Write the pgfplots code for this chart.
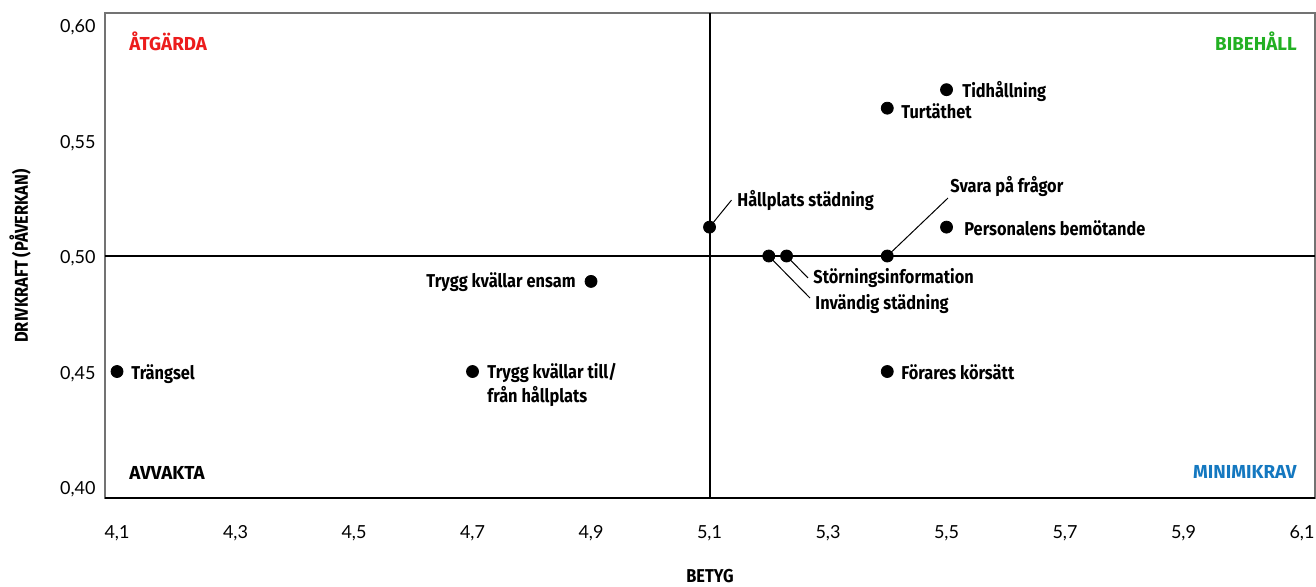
\documentclass[border=0pt]{standalone}
\usepackage{fontspec}
\setmainfont{Lato}
\newfontfamily\lab[FakeStretch=0.88]{Fira Sans}
\newfontfamily\labw{Fira Sans}
\usepackage{pgfplots}
\pgfplotsset{compat=1.18}
\definecolor{cred}{HTML}{EC1C1C}
\definecolor{cgreen}{HTML}{22B022}
\definecolor{cblue}{HTML}{1478C0}
\pgfplotstableread{
x y
4.10 0.450
4.70 0.450
4.90 0.489
5.10 0.5125
5.20 0.500
5.23 0.500
5.40 0.500
5.50 0.5125
5.50 0.572
5.40 0.564
5.40 0.450
}\pts
\begin{document}
\begin{tikzpicture}
\useasboundingbox (-52.5pt,-44pt) rectangle (605.5pt,249pt);
\begin{axis}[
  at={(0,0)}, anchor=south west,
  scale only axis, width=605pt, height=242.5pt,
  xmin=4.0797, xmax=6.1219, ymin=0.39524, ymax=0.60519,
  xtick={4.1,4.3,...,6.15}, ytick={0.40,0.45,...,0.61},
  major tick length=0pt,
  axis line style={black!55, line width=0.7pt},
  /pgf/number format/assume math mode=true,
  xticklabel style={font=\fontsize{9}{10}\selectfont, anchor=center, yshift=-17.5pt,
    /pgf/number format/.cd, fixed, fixed zerofill, precision=1, use comma},
  yticklabel style={font=\fontsize{9}{10}\selectfont, anchor=east, inner sep=0pt, xshift=-4.5pt, yshift=-1.2pt,
    /pgf/number format/.cd, fixed, fixed zerofill, precision=2, use comma},
  clip=false,
]
\draw[black, line width=1pt] (axis cs:5.1,0.39524) -- (axis cs:5.1,0.60519);
\draw[black, line width=0.9pt] (axis cs:4.0797,0.5) -- (axis cs:6.1219,0.5);
\draw[black, line width=0.9pt] (axis cs:4.0797,0.39524) -- (axis cs:6.1219,0.39524);
% leader lines
\draw[black, line width=0.5pt] (axis cs:5.1,0.5125) -- (axis cs:5.1371,0.5242);
\draw[black, line width=0.5pt] (axis cs:5.40,0.500) -- (axis cs:5.5025,0.5251);
\draw[black, line width=0.5pt] (axis cs:5.23,0.500) -- (axis cs:5.2662,0.4905);
\draw[black, line width=0.5pt] (axis cs:5.20,0.500) -- (axis cs:5.2696,0.4818);
\addplot[only marks, mark=*, mark size=3pt, black] table[x=x,y=y] {\pts};
% quadrant labels
\begin{scope}[every node/.style={font=\labw\bfseries\fontsize{9.4}{10}\selectfont, inner sep=0pt}]
\node[anchor=west, text=cred] at (axis cs:4.1203,0.5931) {ÅTGÄRDA};
\node[anchor=east, text=cgreen] at (axis cs:6.0916,0.5931) {BIBEHÅLL};
\node[anchor=west, text=black] at (axis cs:4.1203,0.4061) {AVVAKTA};
\node[anchor=east, text=cblue] at (axis cs:6.0916,0.4065) {MINIMIKRAV};
\end{scope}
\begin{scope}[every node/.style={font=\lab\bfseries\fontsize{9.3}{12}\selectfont, inner sep=0pt}]
\node[anchor=west] at (axis cs:5.5262,0.5710) {Tidhållning};
\node[anchor=west] at (axis cs:5.4232,0.5628) {Turtäthet};
\node[anchor=west] at (axis cs:5.1464,0.5242) {Hållplats städning};
\node[anchor=west] at (axis cs:5.5059,0.5299) {Svara på frågor};
\node[anchor=west] at (axis cs:5.5295,0.5121) {Personalens bemötande};
\node[anchor=west] at (axis cs:5.2747,0.4905) {Störningsinformation};
\node[anchor=west] at (axis cs:5.2781,0.4792) {Invändig städning};
\node[anchor=east] at (axis cs:4.8747,0.4887) {Trygg kvällar ensam};
\node[anchor=west] at (axis cs:4.1236,0.4489) {Trängsel};
\node[anchor=west, align=left] at (axis cs:4.7245,0.4442) {Trygg kvällar till/\\från hållplats};
\node[anchor=west] at (axis cs:5.4232,0.4498) {Förares körsätt};
\end{scope}
\end{axis}
\node[rotate=90, font=\lab\bfseries\fontsize{9.3}{10}\selectfont] at (-42.5pt,121pt) {DRIVKRAFT (PÅVERKAN)};
\node[font=\lab\bfseries\fontsize{9.3}{10}\selectfont] at (302.5pt,-39pt) {BETYG};
\end{tikzpicture}
\end{document}
